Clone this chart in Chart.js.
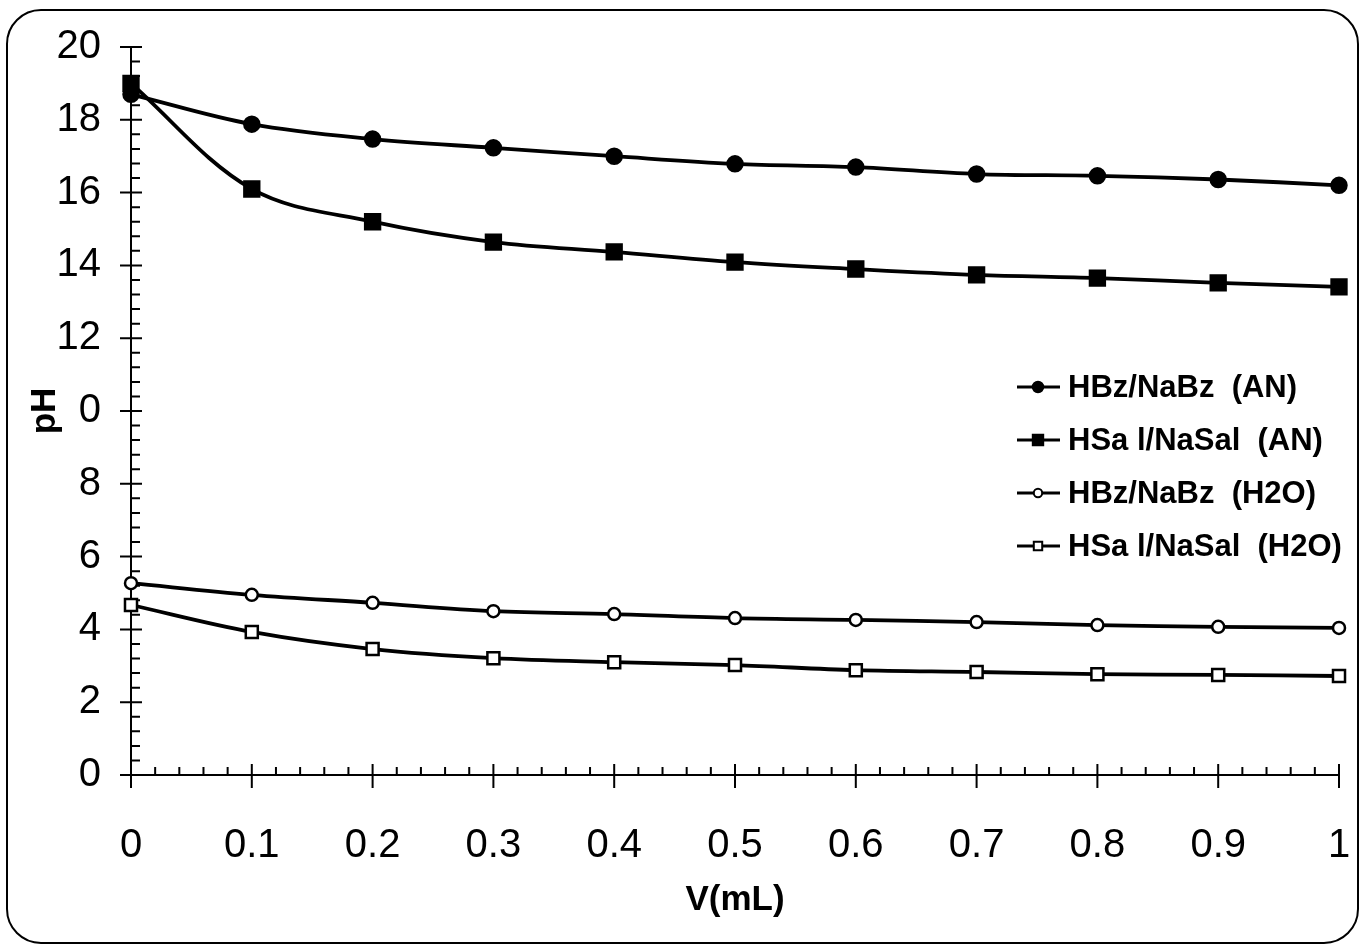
<!DOCTYPE html>
<html>
<head>
<meta charset="utf-8">
<title>pH vs V(mL)</title>
<script src="https://cdn.jsdelivr.net/npm/chart.js@4.4.0/dist/chart.umd.min.js"></script>
<style>
    html, body { margin: 0; padding: 0; background: #fff; }
    #wrap { position: relative; width: 1365px; height: 949px; }
</style>
</head>
<body>
<div id="wrap"><canvas id="phChart"></canvas></div>
<script>
// data
const volumes = [0, 0.1, 0.2, 0.3, 0.4, 0.5, 0.6, 0.7, 0.8, 0.9, 1];
const hbzAN = [18.7, 17.88, 17.47, 17.23, 17.0, 16.79, 16.7, 16.51, 16.46, 16.36, 16.2];
const hsalAN = [19.0, 16.1, 15.2, 14.64, 14.37, 14.09, 13.9, 13.74, 13.65, 13.52, 13.41];
const hbzH2O = [5.27, 4.95, 4.73, 4.5, 4.42, 4.31, 4.26, 4.2, 4.12, 4.07, 4.04];
const hsalH2O = [4.67, 3.93, 3.46, 3.21, 3.1, 3.02, 2.88, 2.83, 2.77, 2.75, 2.72];

const seriesLabels = ['HBz/NaBz  (AN)', 'HSa l/NaSal  (AN)', 'HBz/NaBz  (H2O)', 'HSa l/NaSal  (H2O)'];
const xTickLabels = ['0', '0.1', '0.2', '0.3', '0.4', '0.5', '0.6', '0.7', '0.8', '0.9', '1'];
const yTickLabels = ['0', '2', '4', '6', '8', '0', '12', '14', '16', '18', '20'];

const FONT = '"Liberation Sans", Arial, sans-serif';

function toPoints(values) {
    return volumes.map((v, i) => ({ x: v, y: values[i] }));
}

function makeSet(label, values, style, radius, filled) {
    return {
        label: label,
        data: toPoints(values),
        borderColor: '#000',
        borderWidth: 3.8,
        pointStyle: style,
        pointRadius: radius,
        pointBorderWidth: 2.5,
        pointBorderColor: '#000',
        pointBackgroundColor: filled ? '#000' : '#fff',
        tension: 0.35,
        fill: false,
        clip: false
    };
}

// rounded frame round the whole figure
const frame = {
    id: 'frame',
    beforeDraw(chart) {
        const ctx = chart.ctx;
        ctx.save();
        ctx.strokeStyle = '#000';
        ctx.lineWidth = 2;
        ctx.beginPath();
        ctx.roundRect(7, 10, 1351, 933, 34);
        ctx.stroke();
        ctx.restore();
    }
};

// axis lines with major (crossing) and minor (inside) ticks
const axisTicks = {
    id: 'axisTicks',
    beforeDatasetsDraw(chart) {
        const { ctx, scales: { x, y } } = chart;
        const x0 = x.getPixelForValue(0);
        const y0 = y.getPixelForValue(0);
        ctx.save();
        ctx.strokeStyle = '#000';
        ctx.lineWidth = 2;
        ctx.beginPath();
        ctx.moveTo(x0, y.getPixelForValue(20));
        ctx.lineTo(x0, y0);
        ctx.moveTo(x0, y0);
        ctx.lineTo(x.getPixelForValue(1), y0);
        for (let i = 0; i <= 50; i++) {
            const py = y.getPixelForValue(i * 0.4);
            if (i % 5 === 0) {
                ctx.moveTo(x0 - 11, py);
                ctx.lineTo(x0 + 11, py);
            } else {
                ctx.moveTo(x0, py);
                ctx.lineTo(x0 + 9, py);
            }
        }
        for (let i = 0; i <= 50; i++) {
            const px = x.getPixelForValue(i * 0.02);
            if (i % 5 === 0) {
                ctx.moveTo(px, y0 - 11);
                ctx.lineTo(px, y0 + 13);
            } else {
                ctx.moveTo(px, y0);
                ctx.lineTo(px, y0 - 8);
            }
        }
        ctx.stroke();
        ctx.restore();
    }
};

// legend drawn inside the plot, right side
const insideLegend = {
    id: 'insideLegend',
    afterDatasetsDraw(chart) {
        const ctx = chart.ctx;
        const area = chart.chartArea;
        const lx = area.right - 322;
        const top = area.top + 340;
        ctx.save();
        chart.data.datasets.forEach((ds, i) => {
            const ry = top + i * 53;
            ctx.strokeStyle = '#000';
            ctx.lineWidth = 3;
            ctx.beginPath();
            ctx.moveTo(lx, ry);
            ctx.lineTo(lx + 43, ry);
            ctx.stroke();
            ctx.fillStyle = ds.pointBackgroundColor;
            ctx.lineWidth = 2;
            Chart.helpers.drawPoint(ctx, {
                pointStyle: ds.pointStyle,
                radius: ds.pointRadius * 0.7,
                rotation: 0,
                borderWidth: 2
            }, lx + 21, ry);
            ctx.fillStyle = '#000';
            ctx.font = 'bold 31px ' + FONT;
            ctx.textBaseline = 'middle';
            ctx.textAlign = 'left';
            ctx.fillText(ds.label, lx + 51, ry + 1);
        });
        ctx.restore();
    }
};

const chart = new Chart(document.getElementById('phChart'), {
    type: 'line',
    data: {
        datasets: [
            makeSet(seriesLabels[0], hbzAN, 'circle', 7.5, true),
            makeSet(seriesLabels[1], hsalAN, 'rect', 10.5, true),
            makeSet(seriesLabels[2], hbzH2O, 'circle', 6, false),
            makeSet(seriesLabels[3], hsalH2O, 'rect', 8.5, false)
        ]
    },
    options: {
        responsive: true,
        maintainAspectRatio: false,
        animation: false,
        layout: {
            padding: { top: 47, right: 26, left: 0, bottom: 0 }
        },
        plugins: {
            legend: { display: false },
            tooltip: { enabled: false }
        },
        scales: {
            x: {
                type: 'linear',
                min: 0,
                max: 1,
                grid: { display: false },
                border: { display: false },
                ticks: {
                    stepSize: 0.1,
                    padding: 39,
                    color: '#000',
                    font: { family: FONT, size: 40 },
                    maxRotation: 0,
                    callback: (v, i) => xTickLabels[i]
                },
                title: {
                    display: true,
                    text: 'V(mL)',
                    color: '#000',
                    font: { family: FONT, size: 35, weight: 'bold' },
                    padding: { top: 0, bottom: 28 }
                },
                afterFit: (s) => {
                    s.height = 174;
                    s.paddingLeft = 0;
                    s.paddingRight = 0;
                }
            },
            y: {
                min: 0,
                max: 20,
                grid: { display: false },
                border: { display: false },
                ticks: {
                    stepSize: 2,
                    padding: 22,
                    color: '#000',
                    font: { family: FONT, size: 40 },
                    callback: (v, i) => yTickLabels[i]
                },
                title: {
                    display: true,
                    text: 'pH',
                    color: '#000',
                    font: { family: FONT, size: 35, weight: 'bold' },
                    padding: { top: 24, bottom: 0 }
                },
                afterFit: (s) => {
                    s.width = 131;
                    s.paddingTop = 0;
                    s.paddingBottom = 0;
                }
            }
        }
    },
    plugins: [frame, axisTicks, insideLegend]
});
</script>
</body>
</html>
